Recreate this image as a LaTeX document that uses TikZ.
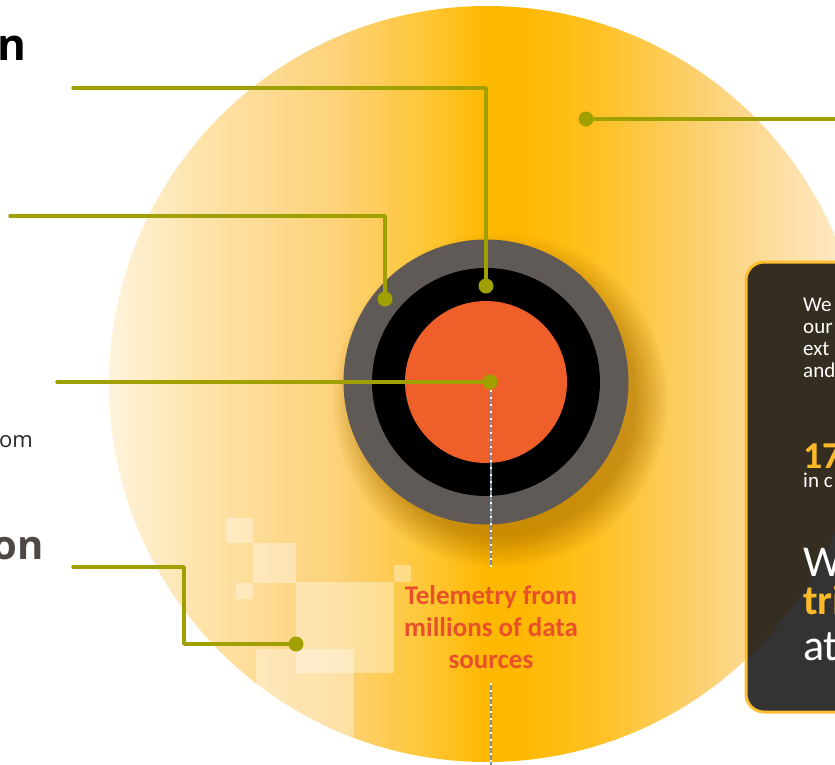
\documentclass[tikz,border=0pt]{standalone}
\usepackage{fontspec}
\setmainfont{Carlito}
\newfontfamily\headfont{Open Sans}
\usetikzlibrary{fadings}
\definecolor{lineol}{HTML}{A0A000}
\definecolor{ringgray}{HTML}{605A56}
\definecolor{coreorange}{HTML}{EF5F2A}
\definecolor{telem}{HTML}{E8502A}
\definecolor{boxgray}{HTML}{333333}
\definecolor{boxbrown}{HTML}{352D20}
\definecolor{boxborder}{HTML}{FDBE32}
\definecolor{hiyellow}{HTML}{FDB92A}
\definecolor{headgray}{HTML}{4E4845}
\definecolor{shadowcol}{HTML}{A86E00}
\definecolor{dotline}{HTML}{7A8AA0}
\definecolor{gA}{HTML}{FFF3DC}
\definecolor{gB}{HTML}{FEE3AA}
\definecolor{gC}{HTML}{FDD27A}
\definecolor{gD}{HTML}{FFC635}
\definecolor{gE}{HTML}{FFB800}
\definecolor{gF}{HTML}{FFC020}
\definecolor{gG}{HTML}{FCD070}
\definecolor{gH}{HTML}{FDE0A8}
\definecolor{gI}{HTML}{FFEDCF}
\pgfdeclarehorizontalshading{sunshade}{100bp}{color(0bp)=(gA); color(25bp)=(gA); color(31bp)=(gB); color(40bp)=(gC); color(46bp)=(gD); color(50bp)=(gE); color(52bp)=(gE); color(57bp)=(gF); color(64bp)=(gG); color(70bp)=(gH); color(75bp)=(gI); color(100bp)=(gI)}
\tikzset{
  conn/.style={draw=lineol, line width=3.5pt, line cap=round, line join=round},
  dotnode/.style={circle, fill=lineol, minimum size=15pt, inner sep=0pt},
  pixel/.style={fill=white, fill opacity=0.35},
  boxtxt/.style={anchor=base west, text=white, inner sep=0pt},
  smalltxt/.style={boxtxt, font=\fontsize{21}{22}\selectfont},
  bigtxt/.style={boxtxt, font=\fontsize{44}{46}\selectfont},
  edge label txt/.style={anchor=base east, inner sep=0pt}
}
\begin{document}
\begin{tikzpicture}[x=1pt,y=-1pt]
\useasboundingbox (0,0) rectangle (835,764);
\begin{scope}
\clip (0,0) rectangle (835,764);
% big sun circle
\shade[shading=sunshade] (487,384) circle[radius=378pt];
% pixel squares
\fill[pixel] (226,518) rectangle (253,543);
\fill[pixel] (253,543) rectangle (296,583);
\fill[pixel] (236,583) rectangle (253,599);
\fill[pixel] (296,582) rectangle (394,673);
\fill[pixel] (394,565) rectangle (411,582);
\begin{scope}
\clip (487,384) circle[radius=378pt];
\fill[pixel] (256,649) rectangle (354,740);
\end{scope}
% shadow of the rings
\fill[shadowcol, fill opacity=0.6, path fading=circle with fuzzy edge 20 percent] (500,400) circle[radius=168pt];
% rings
\fill[ringgray] (486,382) circle[radius=142.5pt];
\fill[black] (486,382) circle[radius=114pt];
\fill[coreorange] (486,382) circle[radius=81pt];
% dots
\node[dotnode] (d1) at (486,286) {};
\node[dotnode] (d2) at (385,299) {};
\node[dotnode] (d3) at (490,382) {};
\node[dotnode] (d4) at (296,644) {};
\node[dotnode] (d5) at (586,119) {};
\coordinate (s1) at (73,88);
\coordinate (s2) at (10,216);
\coordinate (s3) at (57,382);
\coordinate (s4) at (73,567);
\coordinate (k4) at (184,567);
\coordinate (e5) at (845,119);
\draw[conn] (s1) -| (d1.center);
\draw[conn] (s2) -| (d2.center);
\draw[conn] (s3) -- (d3.center);
\draw[conn] (s4) -- (k4) |- (d4.center);
\draw[conn] (d5.center) -- (e5);
% dotted line
\coordinate (v1) at (491,390);
\coordinate (v2) at (491,567);
\coordinate (v3) at (491,683);
\coordinate (v4) at (491,770);
\draw[dotline, line width=2.5pt] (v1) -- (v2) (v3) -- (v4);
\draw[white, line width=2pt, dash pattern=on 2pt off 5pt] (v1) -- (v2) (v3) -- (v4);
% telemetry label
\node[align=center, font=\bfseries\fontsize{27}{32}\selectfont, text=telem] (tel) at (491,627) {Telemetry from\\millions of data\\sources};
% left texts
\node[edge label txt, font=\headfont\bfseries\fontsize{44}{50}\selectfont, text=black] (hn) at (27,60) {n};
\node[edge label txt, font=\headfont\fontsize{22}{26}\selectfont, text=black!85] (hom) at (33,447) {om};
\node[edge label txt, font=\headfont\bfseries\fontsize{40}{46}\selectfont, text=headgray] (hon) at (44,559) {on};
% info box
\fill[boxgray, rounded corners=18pt] (746,262) rectangle (900,712);
\begin{scope}
\clip[rounded corners=18pt] (746,262) rectangle (900,712);
\fill[boxbrown] (487,384) circle[radius=378pt];
\end{scope}
\draw[boxborder, line width=3pt, rounded corners=18pt] (746,262) rectangle (900,712);
\node[smalltxt] (b1) at (803,311) {We};
\node[smalltxt] (b2) at (803,333) {our};
\node[smalltxt] (b3) at (803,355) {ext};
\node[smalltxt] (b4) at (803,377) {and};
\node[boxtxt, font=\bfseries\fontsize{38}{40}\selectfont, text=hiyellow] (b5) at (803,468) {17};
\node[smalltxt] (b6) at (803,487) {in c};
\node[bigtxt] (b7) at (803,576) {W};
\node[boxtxt, font=\bfseries\fontsize{42}{46}\selectfont, text=hiyellow] (b8) at (803,614) {tri};
\node[bigtxt] (b9) at (803,660) {at};
\end{scope}
\end{tikzpicture}
\end{document}
